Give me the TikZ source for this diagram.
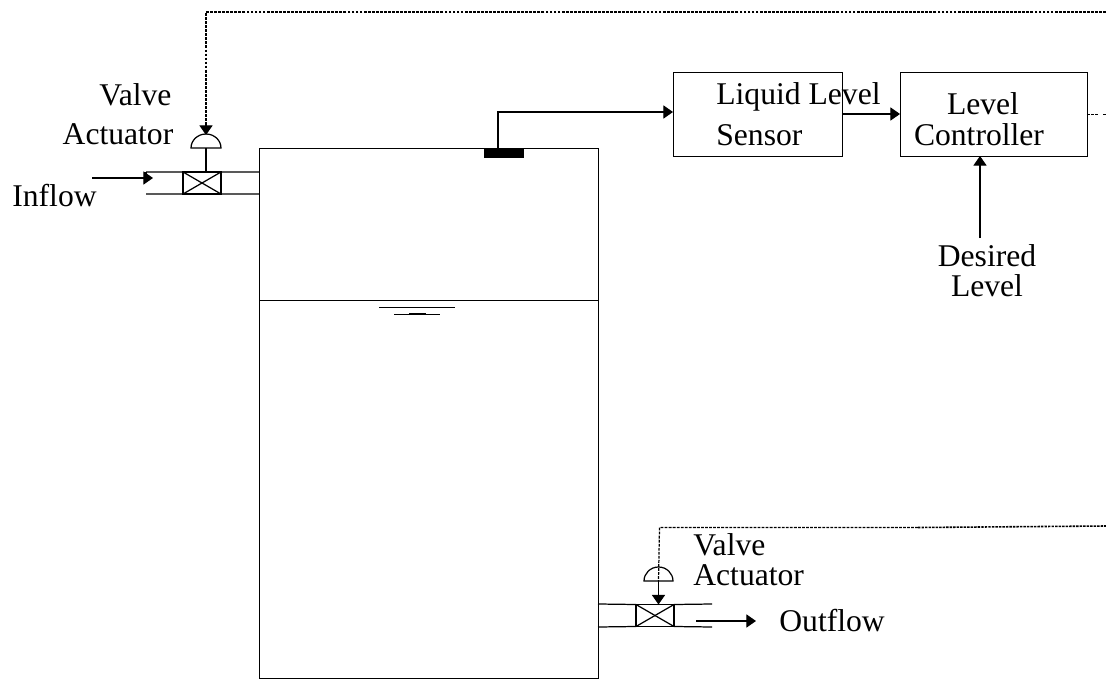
\documentclass[tikz,border=0pt]{standalone}
\usepackage{fontspec}
\setmainfont{Liberation Serif}
\usetikzlibrary{arrows.meta}

\begin{document}
\begin{tikzpicture}[x=0.02cm,y=-0.02cm,  block/.style={rectangle, draw, line width=0.5pt, inner sep=0pt, outer sep=0pt},  valvebox/.style={block, line width=0.6pt, minimum width=0.76cm, minimum height=0.44cm},  edge/.style={line width=0.7pt},  arrow/.style={edge, -{Triangle[length=5.5pt,width=7.5pt]}},  signal/.style={line width=0.6pt, dash pattern=on 1.6pt off 0.7pt},  heavysignal/.style={line width=0.9pt, dash pattern=on 1.4pt off 0.6pt},  lab/.style={font=\fontsize{18}{20}\selectfont, inner sep=0pt}]
\useasboundingbox (0,0) rectangle (1106,679);
%%%%%%%%%%%%%%%%%%%%%%%%%%%%%%%%%%%%%%%%%%%%%%%%%%
% tank
%%%%%%%%%%%%%%%%%%%%%%%%%%%%%%%%%%%%%%%%%%%%%%%%%%
  \node[block, minimum width=6.78cm, minimum height=10.6cm] (tank) at (428.5,413) {};
  \node[block, fill=black, minimum width=0.78cm, minimum height=0.18cm] (probe) at (503.5,152.5) {};

  \coordinate (levelL) at (259,300);
  \coordinate (levelR) at (598,300);
  \coordinate (waveAL) at (379,307);
  \coordinate (waveAR) at (455,307);
  \coordinate (waveBL) at (394,314);
  \coordinate (waveBR) at (440,314);
  \coordinate (waveCL) at (409,313);
  \coordinate (waveCR) at (426,313);
  \draw[block] (levelL)--(levelR);
  \draw[block] (waveAL)--(waveAR);
  \draw[block] (waveBL)--(waveBR);
  \draw[block] (waveCL)--(waveCR);
%%%%%%%%%%%%%%%%%%%%%%%%%%%%%%%%%%%%%%%%%%%%%%%%%%
% inflow valve
%%%%%%%%%%%%%%%%%%%%%%%%%%%%%%%%%%%%%%%%%%%%%%%%%%
  \node[valvebox] (inv) at (202,183) {};
  \node[lab] (valveA) at (135.5,95) {Valve};
  \node[lab] (actA) at (118,134) {Actuator};
  \node[lab, anchor=west] (inflow) at (12,196) {Inflow};

  \coordinate (inTL) at (146,172);
  \coordinate (inBL) at (146,194);
  \coordinate (inTR) at (259,172);
  \coordinate (inBR) at (259,194);
  \coordinate (inflowS) at (92,178);
  \coordinate (inflowE) at (153,178);
  \coordinate (domeA) at (206,148);
  \coordinate (tipA) at (206,135);
  \coordinate (cornerA) at (206,12);
  \coordinate (endA) at (1106,12);

  \draw[edge] (inTL)--(inv.north west) (inv.north east)--(inTR);
  \draw[edge] (inBL)--(inv.south west) (inv.south east)--(inBR);
  \draw[edge] (inTL)--(146,178);
  \draw[edge] (inv.north west)--(inv.south east);
  \draw[edge] (inv.south west)--(inv.north east);
  \draw[arrow] (inflowS)--(inflowE);
  \draw[edge] (191,148) arc[start angle=180,end angle=360,x radius=15,y radius=14]--cycle;
  \draw[edge] (domeA)--(inv.north -| domeA);
  \draw[signal] (endA)--(cornerA)--(206,126);
  \draw[arrow] (206,125)--(tipA);
%%%%%%%%%%%%%%%%%%%%%%%%%%%%%%%%%%%%%%%%%%%%%%%%%%
% outflow valve
%%%%%%%%%%%%%%%%%%%%%%%%%%%%%%%%%%%%%%%%%%%%%%%%%%
  \node[valvebox] (outv) at (655,615.5) {};
  \node[lab, anchor=west] (valveB) at (693,545) {Valve};
  \node[lab, anchor=west] (actB) at (693,575) {Actuator};
  \node[lab, anchor=west] (outflow) at (779,621) {Outflow};

  \coordinate (outTL) at (598,604);
  \coordinate (outBL) at (598,627);
  \coordinate (outTR) at (712,604);
  \coordinate (outBR) at (712,627);
  \coordinate (outflowS) at (696,621);
  \coordinate (outflowE) at (756,621);
  \coordinate (domeB) at (658.5,581);
  \coordinate (cornerB) at (659.5,527.5);
  \coordinate (midB) at (918,527.5);
  \coordinate (endB) at (1106,526);

  \draw[edge] (outTL)--(outv.north west) (outv.north east)--(outTR);
  \draw[edge] (outBL)--(outv.south west) (outv.south east)--(outBR);
  \draw[edge] (outv.north west)--(outv.south east);
  \draw[edge] (outv.south west)--(outv.north east);
  \draw[arrow] (domeB)--(domeB |- outv.north);
  \draw[arrow] (outflowS)--(outflowE);
  \draw[edge] (644,581) arc[start angle=180,end angle=360,x radius=14.5,y radius=14]--cycle;
  \draw[signal, line width=0.7pt] (midB)--(cornerB)--(domeB);
  \draw[heavysignal] (midB)--(endB);
%%%%%%%%%%%%%%%%%%%%%%%%%%%%%%%%%%%%%%%%%%%%%%%%%%
% control loop
%%%%%%%%%%%%%%%%%%%%%%%%%%%%%%%%%%%%%%%%%%%%%%%%%%
  \node[block, minimum width=3.38cm, minimum height=1.68cm] (sensor) at (757.5,114) {};
  \node[block, minimum width=3.74cm, minimum height=1.68cm] (controller) at (993.5,114) {};
  \node[lab, anchor=west] (liquid) at (716,97) {Liquid Level};
  \node[lab, anchor=west] (sensorB) at (716,135) {Sensor};
  \node[lab] (levelA) at (983,104) {Level};
  \node[lab] (contr) at (979,135) {Controller};
  \node[lab] (desired) at (987,256) {Desired};
  \node[lab] (levelB) at (987,286) {Level};

  \coordinate (probeUp) at (498,148);
  \coordinate (sensorIn) at (673,112);
  \coordinate (desiredUp) at (980,238);
  \coordinate (ctrlGapA) at (1099,114.5);
  \coordinate (ctrlGapB) at (1103,114.5);
  \coordinate (ctrlEnd) at (1106,114.5);

  \draw[arrow] (probeUp)|-(sensorIn);
  \draw[arrow] (sensor.east)--(controller.west);
  \draw[arrow] (desiredUp)--(desiredUp |- controller.south);
  \draw[signal] (controller.east |- ctrlGapA)--(ctrlGapA);
  \draw[signal] (ctrlGapB)--(ctrlEnd);
\end{tikzpicture}
\end{document}
